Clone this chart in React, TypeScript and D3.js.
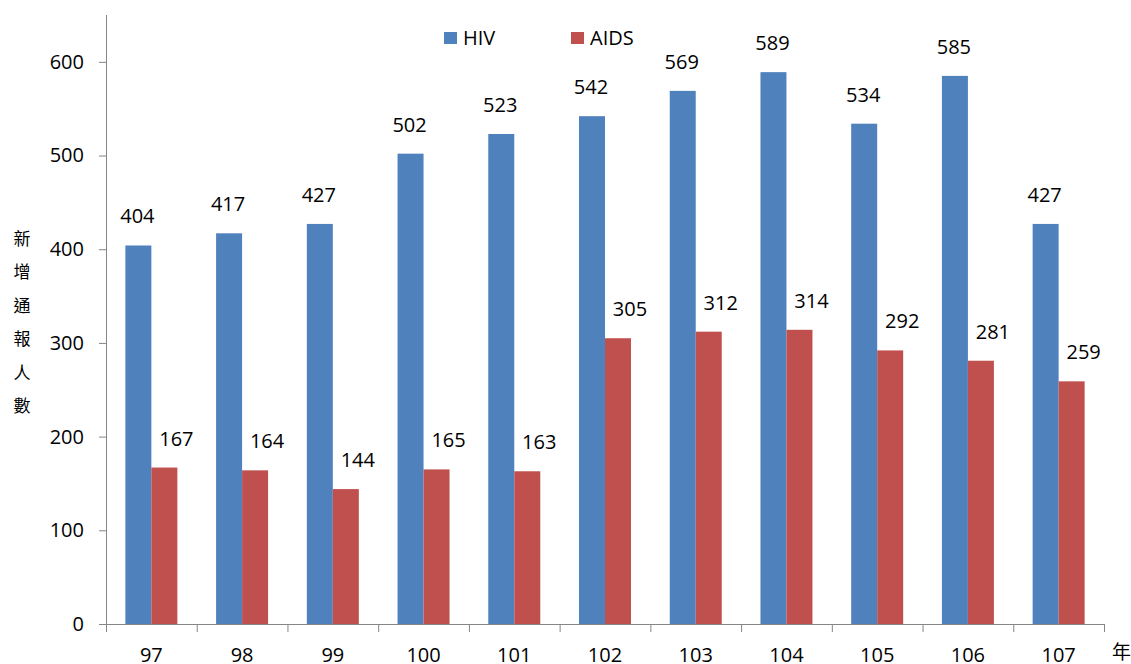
import * as d3 from 'd3';
import React, { useEffect, useRef } from 'react';

const years = ['97', '98', '99', '100', '101', '102', '103', '104', '105', '106', '107'];
const hivValues = [404, 417, 427, 502, 523, 542, 569, 589, 534, 585, 427];
const aidsValues = [167, 164, 144, 165, 163, 305, 312, 314, 292, 281, 259];
const seriesNames = ['HIV', 'AIDS'];
const yTicks = [0, 100, 200, 300, 400, 500, 600];
const yTitle = ['新', '增', '通', '報', '人', '數'];
const xTitle = '年';

const colors: Record<string, string> = { HIV: '#4F81BD', AIDS: '#C0504D' };
const font = '"Open Sans", "Noto Sans CJK TC", sans-serif';

export default function App() {
  const svgRef = useRef<SVGSVGElement | null>(null);

  useEffect(() => {
    if (!svgRef.current) return;
    const svg = d3.select(svgRef.current);
    svg.selectAll('*').remove();

    const left = 106;
    const right = 1104;
    const bottom = 624;
    const top = 15;

    const x = d3.scaleBand<string>().domain(years).range([left, right]).padding(0);
    const sub = d3
      .scaleBand<string>()
      .domain(seriesNames)
      .range([0, x.bandwidth()])
      .paddingInner(0)
      .paddingOuter(0.745);
    const y = d3.scaleLinear().domain([0, 650]).range([bottom, top]);

    const rows = years.map((yr, i) => ({ yr, HIV: hivValues[i], AIDS: aidsValues[i] }));

    // bars
    seriesNames.forEach((name) => {
      svg
        .append('g')
        .selectAll('rect')
        .data(rows)
        .enter()
        .append('rect')
        .attr('x', (d) => x(d.yr)! + sub(name)!)
        .attr('y', (d) => y((d as any)[name]))
        .attr('width', sub.bandwidth())
        .attr('height', (d) => bottom - y((d as any)[name]))
        .attr('fill', colors[name]);

      svg
        .append('g')
        .selectAll('text')
        .data(rows)
        .enter()
        .append('text')
        .attr('x', (d) => x(d.yr)! + sub(name)! + sub.bandwidth() / 2 + (name === 'AIDS' ? 12 : -1))
        .attr('y', (d) => y((d as any)[name]) - 22)
        .attr('text-anchor', 'middle')
        .style('font-family', font)
        .style('font-size', '20px')
        .style('fill', '#000')
        .text((d) => String((d as any)[name]));
    });

    // y axis
    const yAxis = svg
      .append('g')
      .attr('transform', `translate(${left},0)`)
      .call(d3.axisLeft(y).tickValues(yTicks).tickSize(7).tickPadding(15).tickSizeOuter(0));
    yAxis.select('.domain').attr('d', `M0.5,${top}V${bottom}`);

    // x axis
    const tickPos = [...years.map((yr) => x(yr)!), right];
    const xAxis = svg.append('g');
    xAxis
      .append('path')
      .attr('d', `M${left},${bottom + 0.5}H${right}`)
      .attr('stroke', '#868686')
      .attr('fill', 'none');
    xAxis
      .selectAll('line')
      .data(tickPos)
      .enter()
      .append('line')
      .attr('x1', (d) => d + 0.5)
      .attr('x2', (d) => d + 0.5)
      .attr('y1', bottom)
      .attr('y2', bottom + 8)
      .attr('stroke', '#868686');
    xAxis
      .selectAll('text')
      .data(years)
      .enter()
      .append('text')
      .attr('x', (d) => x(d)! + x.bandwidth() / 2)
      .attr('y', 662)
      .attr('text-anchor', 'middle')
      .style('font-family', font)
      .style('font-size', '20px')
      .style('fill', '#000')
      .text((d) => d);

    yAxis.selectAll('.domain, .tick line').attr('stroke', '#868686');
    yAxis
      .selectAll('text')
      .style('font-family', font)
      .style('font-size', '20px')
      .style('fill', '#000');

    // axis titles
    svg
      .append('g')
      .selectAll('text')
      .data(yTitle)
      .enter()
      .append('text')
      .attr('x', 22)
      .attr('y', (d, i) => 245 + i * 33.4)
      .attr('text-anchor', 'middle')
      .style('font-family', '"Noto Sans CJK TC", sans-serif')
      .style('font-size', '17px')
      .style('fill', '#000')
      .text((d) => d);

    svg
      .append('text')
      .attr('x', 1112)
      .attr('y', 659)
      .style('font-family', '"Noto Sans CJK TC", sans-serif')
      .style('font-size', '19px')
      .style('fill', '#000')
      .text(xTitle);

    // legend
    const legend = svg.append('g');
    const legendX = [444, 571];
    seriesNames.forEach((name, i) => {
      legend
        .append('rect')
        .attr('x', legendX[i])
        .attr('y', 32)
        .attr('width', 13)
        .attr('height', 12)
        .attr('fill', colors[name]);
      legend
        .append('text')
        .attr('x', legendX[i] + 19)
        .attr('y', 45)
        .style('font-family', font)
        .style('font-size', '20px')
        .style('fill', '#000')
        .text(name);
    });
  }, []);

  return (
    <div style={{ position: 'absolute', left: 0, top: 0 }}>
      <svg ref={svgRef} width={1131} height={664} style={{ display: 'block', background: '#fff' }} />
    </div>
  );
}
